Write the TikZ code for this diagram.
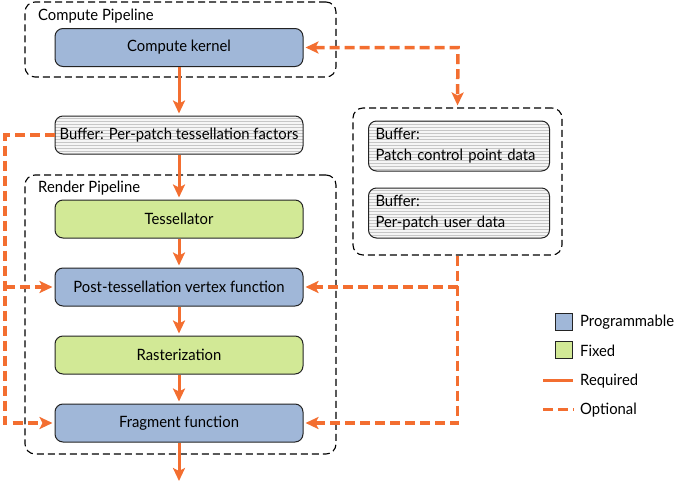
\documentclass[tikz,border=0pt]{standalone}
\usepackage{fontspec}
\setmainfont{Lato}[FakeStretch=0.95]
\usetikzlibrary{arrows.meta,patterns}
\definecolor{progblue}{RGB}{160,183,216}
\definecolor{fixgreen}{RGB}{210,233,150}
\definecolor{orng}{RGB}{243,110,48}
\definecolor{boxline}{RGB}{35,35,35}
\newcommand{\fs}{\fontsize{15.6pt}{21pt}\selectfont}
\tikzset{
  stage/.style={draw=boxline, line width=1pt, rounded corners=8pt, minimum width=248pt, minimum height=38pt, inner sep=0pt, font=\fs, text=black},
  prog/.style={stage, fill=progblue},
  fixd/.style={stage, fill=fixgreen},
  buf/.style={stage, preaction={fill=gray!8}, pattern=horizontal lines, pattern color=gray!45},
  container/.style={draw=black, line width=1.1pt, dash pattern=on 7pt off 4pt, rounded corners=10pt, inner sep=0pt},
  title/.style={anchor=west, inner sep=0pt, font=\fs},
  req/.style={draw=orng, line width=3pt, -{Stealth[length=13pt,width=12pt,inset=3pt]}, shorten >=2pt},
  opt/.style={draw=orng, line width=3.5pt, dash pattern=on 10pt off 5pt, -{Stealth[length=13pt,width=12pt,inset=3pt]}, shorten >=2pt},
  opt2/.style={opt, {Stealth[length=13pt,width=12pt,inset=3pt]}-{Stealth[length=13pt,width=12pt,inset=3pt]}, shorten <=2pt},
  legsq/.style={draw=boxline, line width=1pt, minimum size=17pt, inner sep=0pt},
  legtxt/.style={anchor=west, inner sep=0pt, font=\fs}
}
\begin{document}
\begin{tikzpicture}[x=1pt,y=-1pt]
\useasboundingbox (0,0) rectangle (678,482);
% containers
\node[container, minimum width=311pt, minimum height=75pt] (cp) at (180.5,39.5) {};
\node[title] (cpt) at (38,16) {Compute Pipeline};
\node[container, minimum width=311pt, minimum height=279pt] (rp) at (180.5,314.5) {};
\node[title] (rpt) at (38,188) {Render Pipeline};
\node[container, minimum width=209pt, minimum height=147pt] (rb) at (457.5,181.5) {};
% stages
\node[prog] (ck) at (179,47.5) {Compute kernel};
\node[buf] (bf) at (179,135) {Buffer: Per-patch tessellation factors};
\node[fixd] (tess) at (179,219) {Tessellator};
\node[prog] (post) at (179,287) {Post-tessellation vertex function};
\node[fixd] (rast) at (179,355) {Rasterization};
\node[prog] (frag) at (179,423) {Fragment function};
\node[buf, minimum width=181pt, minimum height=50pt, text width=167pt, align=left] (pcp) at (459,146) {Buffer:\\Patch control point data};
\node[buf, minimum width=181pt, minimum height=50pt, text width=167pt, align=left] (pud) at (459,213) {Buffer:\\Per-patch user data};
% required flow
\draw[req] (ck) -- (bf);
\draw[req] (bf) -- (tess);
\draw[req] (tess) -- (post);
\draw[req] (post) -- (rast);
\draw[req] (rast) -- (frag);
\coordinate (out) at (179,481);
\draw[req, shorten >=0pt] (frag) -- (out);
% optional flow
\coordinate (rc) at (458,47.5);
\draw[opt2] (ck.east) -- (rc) -- (rb.north);
\coordinate (rpost) at (rb.south |- post.east);
\draw[opt] (rb.south) |- (frag.east);
\draw[opt] (rpost) -- (post.east);
\coordinate (lc) at (5,135);
\coordinate (lpost) at (lc |- post.west);
\draw[opt] (bf.west) -- (lc) |- (frag.west);
\draw[opt] (lpost) -- (post.west);
% legend
\node[legsq, fill=progblue] (lp) at (564,321.5) {};
\node[legtxt] (lpt) at (580,322) {Programmable};
\node[legsq, fill=fixgreen] (lf) at (564,349.5) {};
\node[legtxt] (lft) at (580,351) {Fixed};
\coordinate (lr1) at (543,380.5);
\coordinate (lr2) at (573,380.5);
\draw[draw=orng, line width=3pt] (lr1) -- (lr2);
\node[legtxt] (lrt) at (580,381) {Required};
\coordinate (lo1) at (543,409.5);
\coordinate (lo2) at (574,409.5);
\draw[draw=orng, line width=3.5pt, dash pattern=on 10pt off 5pt] (lo1) -- (lo2);
\node[legtxt] (lot) at (580,410) {Optional};
\end{tikzpicture}
\end{document}
